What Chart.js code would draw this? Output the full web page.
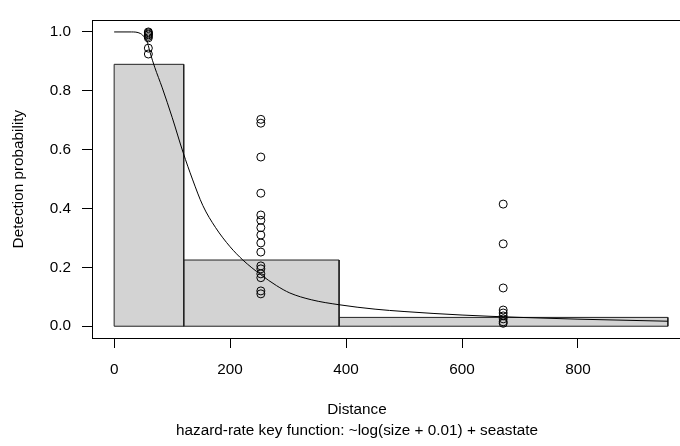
<!DOCTYPE html>
<html>
<head>
<meta charset="utf-8">
<script src="https://cdn.jsdelivr.net/npm/chart.js@4"></script>
<style>
html, body { margin: 0; padding: 0; background: #fff; overflow: hidden; }
#wrap { width: 700px; height: 446px; }
</style>
</head>
<body>
<div id="wrap"><canvas id="detChart" width="700" height="446"></canvas></div>
<script>

// ─────────────────────────────────────
// DATA
// ─────────────────────────────────────

// histogram of scaled detections
const binBreaks = [0, 120, 388, 955];
const binHeights = [0.89, 0.225, 0.03];

// fitted detection function
const curveDist = [0, 30, 45, 53, 58, 62, 70, 83, 100, 119, 135, 153, 175, 200, 222, 253, 280, 303, 340, 388, 450, 500, 600, 700, 800, 955];
const curveProb = [1.0, 1.0, 0.995, 0.98, 0.96, 0.93, 0.88, 0.81, 0.71, 0.59, 0.5, 0.41, 0.335, 0.27, 0.225, 0.175, 0.138, 0.113, 0.09, 0.073, 0.058, 0.05, 0.038, 0.03, 0.024, 0.017];

// observed points, one column per distance
const obsDist = [59, 253, 671];
const obsProbA = [1.0, 0.997, 0.993, 0.99, 0.985, 0.98, 0.945, 0.925];
const obsProbB = [0.703, 0.69, 0.575, 0.452, 0.378, 0.36, 0.335, 0.31, 0.283, 0.252, 0.205, 0.195, 0.178, 0.165, 0.12, 0.11];
const obsProbC = [0.415, 0.28, 0.13, 0.055, 0.045, 0.035, 0.025, 0.015, 0.01];

// axis ticks
const xTicks = [0, 200, 400, 600, 800];
const yTicks = [0, 0.2, 0.4, 0.6, 0.8, 1.0];

const FONT = '"Liberation Sans", Arial, Helvetica, sans-serif';
const FSIZE = 15.3;

Chart.defaults.color = '#000';
Chart.defaults.font.family = FONT;
Chart.defaults.font.size = FSIZE;


// ─────────────────────────────────────
// BUILD DATASETS
// ─────────────────────────────────────

const barSets = binHeights.map((h, i) => {
    const a = binBreaks[i];
    const b = binBreaks[i + 1];
    return {
        data: [
            { x: a, y: 0 },
            { x: a, y: h },
            { x: b, y: h },
            { x: b, y: 0 }
        ],
        borderColor: '#222',
        borderWidth: 1,
        backgroundColor: '#d3d3d3',
        fill: 'origin',
        pointRadius: 0,
        tension: 0,
        order: 4
    };
});

// bottom edge of the bars
const baseSet = {
    data: [
        { x: binBreaks[0], y: 0 },
        { x: binBreaks[binBreaks.length - 1], y: 0 }
    ],
    borderColor: '#222',
    borderWidth: 1,
    fill: false,
    pointRadius: 0,
    order: 3
};

const curveSet = {
    data: curveDist.map((d, i) => ({ x: d, y: curveProb[i] })),
    borderColor: '#000',
    borderWidth: 1,
    fill: false,
    pointRadius: 0,
    cubicInterpolationMode: 'monotone',
    order: 2
};

const pointSets = [obsProbA, obsProbB, obsProbC].map((col, i) => ({
    data: col.map(p => ({ x: obsDist[i], y: p })),
    showLine: false,
    pointRadius: 4,
    pointBorderWidth: 1,
    pointBorderColor: '#000',
    pointBackgroundColor: 'rgba(0,0,0,0)',
    order: 1
}));


// ─────────────────────────────────────
// BOX + BOTTOM TITLES
// ─────────────────────────────────────

const boxPlugin = {
    id: 'rbox',
    afterDraw(chart) {
        const { ctx, chartArea: a } = chart;
        ctx.save();
        ctx.strokeStyle = '#000';
        ctx.lineWidth = 1;
        ctx.strokeRect(Math.round(a.left) + 0.5, Math.round(a.top) + 0.5,
            Math.round(a.right - a.left), Math.round(a.bottom - a.top));

        ctx.fillStyle = '#000';
        ctx.font = FSIZE + 'px ' + FONT;
        ctx.textAlign = 'center';
        ctx.textBaseline = 'middle';
        ctx.fillText('Distance', 357, 410);
        ctx.fillText('hazard-rate key function: ~log(size + 0.01) + seastate', 357, 431);
        ctx.restore();
    }
};


// ─────────────────────────────────────
// CHART
// ─────────────────────────────────────

new Chart(document.getElementById('detChart'), {

    type: 'line',

    data: {
        datasets: [...pointSets, curveSet, baseSet, ...barSets]
    },

    plugins: [boxPlugin],

    options: {
        responsive: false,
        animation: false,
        layout: {
            padding: { top: 10, right: 10, left: 0, bottom: 0 }
        },
        plugins: {
            legend: { display: false },
            tooltip: { enabled: false }
        },
        scales: {
            x: {
                type: 'linear',
                min: -38.2,
                max: 993.2,
                afterBuildTicks: s => { s.ticks = xTicks.map(v => ({ value: v })); },
                afterFit: s => { s.height = 108; },
                grid: {
                    drawOnChartArea: false,
                    color: '#000',
                    tickLength: 10
                },
                border: { display: false },
                ticks: {
                    padding: 13,
                    maxRotation: 0,
                    callback: v => String(v)
                }
            },
            y: {
                type: 'linear',
                min: -0.04,
                max: 1.04,
                afterBuildTicks: s => { s.ticks = yTicks.map(v => ({ value: v })); },
                afterFit: s => { s.width = 92; },
                grid: {
                    drawOnChartArea: false,
                    color: '#000',
                    tickLength: 10
                },
                border: { display: false },
                ticks: {
                    padding: 11,
                    callback: v => v.toFixed(1)
                },
                title: {
                    display: true,
                    text: 'Detection probability',
                    padding: { top: 10, bottom: 0 }
                }
            }
        }
    }
});
</script>
</body>
</html>
